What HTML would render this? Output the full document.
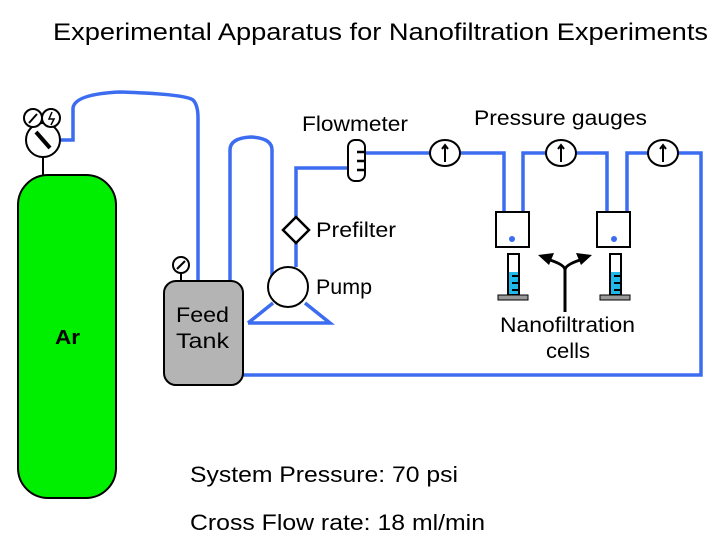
<!DOCTYPE html>
<html><head><meta charset="utf-8"><style>body{margin:0;background:#fff}svg{display:block}</style></head><body>
<svg width="728" height="546" viewBox="0 0 728 546" xmlns="http://www.w3.org/2000/svg" font-family="Liberation Sans, Arial, sans-serif">
<rect width="728" height="546" fill="#fff"/>
<text x="53" y="40" font-size="24" textLength="655" lengthAdjust="spacingAndGlyphs" fill="#000">Experimental Apparatus for Nanofiltration Experiments</text>
<g fill="none" stroke="#3c6cf0" stroke-width="3.5">
<path d="M60,140 H73 V108 Q75,94 120,92 Q185,94 193,100 Q198,105 198,118 V282"/>
<path d="M230,282 V150 Q230,138 251,137 Q272,138 272,150 V283"/>
<path d="M296,267 V168 H349"/>
<path d="M365,153 H430 M460,153 H504 V212 M523,212 V153 H546 M576,153 H607 V212 M627,212 V153 H648 M678,153 H701 V375 H243"/>
<path d="M248,323 H330 L305,303 M248,323 L273,303"/>
</g>
<rect x="18" y="175" width="98" height="323" rx="30" fill="#00ee00" stroke="#000" stroke-width="2"/>
<text x="55" y="344" font-size="20" font-weight="bold" textLength="25" lengthAdjust="spacingAndGlyphs">Ar</text>
<line x1="43" y1="155" x2="43" y2="175" stroke="#000" stroke-width="2"/>
<circle cx="43" cy="140" r="17" fill="#fff" stroke="#000" stroke-width="2"/>
<line x1="36" y1="132" x2="50" y2="148" stroke="#000" stroke-width="4"/>
<circle cx="33" cy="118" r="9" fill="#fff" stroke="#000" stroke-width="2"/>
<line x1="29" y1="123" x2="37" y2="114" stroke="#000" stroke-width="2"/>
<circle cx="51" cy="118" r="9" fill="#fff" stroke="#000" stroke-width="2"/>
<path d="M52,112 L49,119 L54,119 L51,125" fill="none" stroke="#000" stroke-width="1.5"/>
<rect x="164" y="281" width="79" height="104" rx="12" fill="#b4b4b4" stroke="#000" stroke-width="2"/>
<text x="176" y="322" font-size="21" textLength="53" lengthAdjust="spacingAndGlyphs">Feed</text>
<text x="176" y="348" font-size="21" textLength="53" lengthAdjust="spacingAndGlyphs">Tank</text>
<line x1="181" y1="273" x2="181" y2="281" stroke="#000" stroke-width="2"/>
<circle cx="181" cy="265" r="8" fill="#fff" stroke="#000" stroke-width="2"/>
<line x1="177" y1="269" x2="185" y2="261" stroke="#000" stroke-width="2"/>
<circle cx="288" cy="287" r="20" fill="#fff" stroke="#000" stroke-width="2"/>
<path d="M296,217 L309,230 L296,243 L283,230 Z" fill="#fff" stroke="#000" stroke-width="2.5"/>
<rect x="348" y="140" width="17" height="41" rx="7" fill="#fff" stroke="#000" stroke-width="2"/>
<path d="M357,152 H365 M357,161 H365 M357,170 H365" stroke="#000" stroke-width="2.5"/>
<g fill="#fff" stroke="#000" stroke-width="2">
<ellipse cx="445" cy="153" rx="15" ry="13"/><ellipse cx="561" cy="153" rx="15" ry="13"/><ellipse cx="663" cy="153" rx="15" ry="13"/>
</g>
<g stroke="#000" stroke-width="2" fill="none">
<path d="M445,162 V146 M442,149 L445,145 L448,149"/><path d="M561,162 V146 M558,149 L561,145 L564,149"/><path d="M663,162 V146 M660,149 L663,145 L666,149"/>
</g>
<g stroke="#000" stroke-width="2" fill="#fff">
<rect x="496" y="212" width="33" height="35"/><rect x="597" y="212" width="33" height="35"/>
</g>
<circle cx="512" cy="239" r="3" fill="#3c6cf0"/><circle cx="614" cy="239" r="3" fill="#3c6cf0"/>
<g>
<rect x="508" y="254" width="11" height="41" fill="#fff" stroke="#000" stroke-width="2"/>
<rect x="509" y="272" width="9" height="22" fill="#20b8e8"/>
<path d="M512,276 H519 M512,283 H519 M512,290 H519" stroke="#000" stroke-width="2"/>
<rect x="498" y="295" width="30" height="5" fill="#999" stroke="#000" stroke-width="1"/>
<rect x="610" y="254" width="11" height="41" fill="#fff" stroke="#000" stroke-width="2"/>
<rect x="611" y="272" width="9" height="22" fill="#20b8e8"/>
<path d="M614,276 H621 M614,283 H621 M614,290 H621" stroke="#000" stroke-width="2"/>
<rect x="600" y="295" width="30" height="5" fill="#999" stroke="#000" stroke-width="1"/>
</g>
<path d="M565,312 V270 Q565,265 550,260 M565,270 Q565,265 580,260" fill="none" stroke="#000" stroke-width="3"/>
<path d="M538,255 L554,253 L549,265 Z" fill="#000"/>
<path d="M592,255 L576,253 L581,265 Z" fill="#000"/>
<g font-size="21" fill="#000">
<text x="302" y="131" textLength="106" lengthAdjust="spacingAndGlyphs">Flowmeter</text>
<text x="474" y="125" textLength="173" lengthAdjust="spacingAndGlyphs">Pressure gauges</text>
<text x="316" y="237" textLength="80" lengthAdjust="spacingAndGlyphs">Prefilter</text>
<text x="316" y="294" textLength="56" lengthAdjust="spacingAndGlyphs">Pump</text>
<text x="500" y="332" textLength="135" lengthAdjust="spacingAndGlyphs">Nanofiltration</text>
<text x="546" y="358" textLength="44" lengthAdjust="spacingAndGlyphs">cells</text>
</g>
<g font-size="22" fill="#000">
<text x="190" y="482" textLength="268" lengthAdjust="spacingAndGlyphs">System Pressure: 70 psi</text>
<text x="190" y="530" textLength="295" lengthAdjust="spacingAndGlyphs">Cross Flow rate: 18 ml/min</text>
</g>
</svg>
</body></html>
